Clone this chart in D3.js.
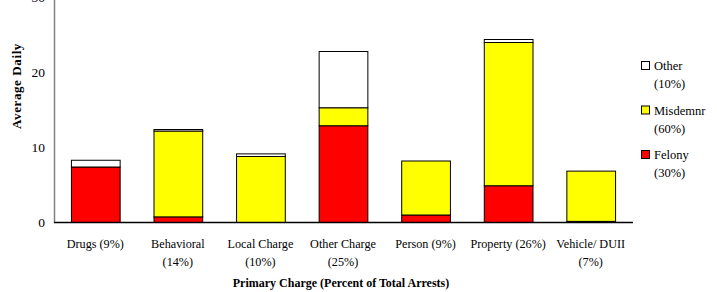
<!DOCTYPE html>
<html lang="en">
<head>
  <meta charset="UTF-8">
  <title>Average Daily by Primary Charge</title>
  <style>
    * { margin: 0; padding: 0; }
    body { background: #fff; font-family: 'Liberation Serif', 'Times New Roman', serif; }
    svg text { fill: #000; }
  </style>
  <script src="https://cdn.jsdelivr.net/npm/d3@7/dist/d3.min.js"></script>
</head>
<body>
  <svg id="chart" width="717" height="292"></svg>
  <script>
    // categories, split into label lines
    const categories = ['Drugs', 'Behavioral', 'Local Charge', 'Other Charge', 'Person', 'Property', 'Vehicle/ DUII'];
    const catLabels = [
      ['Drugs (9%)'], ['Behavioral', '(14%)'], ['Local Charge', '(10%)'], ['Other Charge', '(25%)'],
      ['Person (9%)'], ['Property (26%)'], ['Vehicle/ DUII', '(7%)']
    ];
    const felony = [7.4, 0.75, 0, 12.9, 1.0, 4.9, 0.15];
    const misdemnr = [0, 11.45, 8.8, 2.4, 7.2, 19.1, 6.7];
    const other = [0.9, 0.2, 0.35, 7.5, 0, 0.4, 0];
    const yTicks = [0, 10, 20, 30];
    const seriesNames = ['Felony', 'Misdemnr', 'Other'];
    const seriesPct = ['(30%)', '(60%)', '(10%)'];
    const colors = { Felony: '#ff0000', Misdemnr: '#ffff00', Other: '#ffffff' };

    const svg = d3.select('#chart');
    const x = d3.scaleBand().domain(categories).range([54, 632]).paddingInner(0.41).paddingOuter(0.205);
    const y = d3.scaleLinear().domain([0, 30]).range([222, -3]);

    const rows = categories.map((c, i) => ({ cat: c, Felony: felony[i], Misdemnr: misdemnr[i], Other: other[i] }));
    const stacked = d3.stack().keys(seriesNames)(rows);

    // bars
    svg.append('g').selectAll('g')
      .data(stacked)
      .join('g')
      .attr('fill', d => colors[d.key])
      .selectAll('rect')
      .data(d => d.filter(p => p[1] - p[0] > 0))
      .join('rect')
      .attr('x', d => x(d.data.cat) + 0.5)
      .attr('y', d => y(d[1]) + 0.5)
      .attr('width', x.bandwidth())
      .attr('height', d => y(d[0]) - y(d[1]))
      .attr('stroke', '#000')
      .attr('stroke-width', 1);

    // axes lines
    svg.append('line').attr('x1', 54.5).attr('x2', 54.5).attr('y1', 0).attr('y2', y(0) + 0.5)
      .attr('stroke', '#808080').attr('stroke-width', 1.5);
    svg.append('line').attr('x1', 54).attr('x2', 633).attr('y1', y(0) + 0.5).attr('y2', y(0) + 0.5)
      .attr('stroke', '#000').attr('stroke-width', 1.5);

    // y tick labels
    svg.append('g').selectAll('text')
      .data(yTicks)
      .join('text')
      .attr('x', 45)
      .attr('y', d => y(d) + 5)
      .attr('text-anchor', 'end')
      .attr('font-size', 13.5)
      .text(d => d);

    // y title
    svg.append('text')
      .attr('transform', 'translate(21,86) rotate(-90)')
      .attr('text-anchor', 'middle')
      .attr('font-size', 13)
      .attr('font-weight', 'bold')
      .attr('letter-spacing', 0.6)
      .text('Average Daily');

    // x labels
    const xl = svg.append('g').selectAll('text')
      .data(categories)
      .join('text')
      .attr('text-anchor', 'middle')
      .attr('font-size', 12.2)
      .attr('x', d => x(d) + x.bandwidth() / 2)
      .attr('y', 248);
    xl.selectAll('tspan')
      .data((d, i) => catLabels[i])
      .join('tspan')
      .attr('x', function() { return d3.select(this.parentNode).attr('x'); })
      .attr('dy', (d, i) => i === 0 ? 0 : 18)
      .text(d => d);

    svg.append('text')
      .attr('x', 341)
      .attr('y', 287)
      .attr('text-anchor', 'middle')
      .attr('font-size', 12)
      .attr('font-weight', 'bold')
      .text('Primary Charge (Percent of Total Arrests)');

    // legend (top to bottom: Other, Misdemnr, Felony)
    const legendOrder = [2, 1, 0];
    const lg = svg.append('g').selectAll('g')
      .data(legendOrder)
      .join('g')
      .attr('transform', (d, i) => `translate(641,${61 + i * 44.5})`);
    lg.append('rect')
      .attr('x', 0.5).attr('y', 0.5).attr('width', 8).attr('height', 8)
      .attr('fill', d => colors[seriesNames[d]])
      .attr('stroke', '#000');
    lg.append('text').attr('x', 13).attr('y', 9).attr('font-size', 12.5).text(d => seriesNames[d]);
    lg.append('text').attr('x', 13).attr('y', 27).attr('font-size', 12.5).text(d => seriesPct[d]);
  </script>
</body>
</html>
